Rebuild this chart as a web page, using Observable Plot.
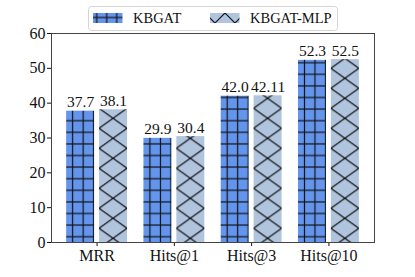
<!DOCTYPE html>
<html><head><meta charset="utf-8">
<script src="https://cdn.jsdelivr.net/npm/d3@7"></script>
<script src="https://cdn.jsdelivr.net/npm/@observablehq/plot@0.6"></script>
<style>
html,body{margin:0;padding:0;background:#fff;}
#wrap{position:relative;width:415px;height:277px;overflow:hidden;}
#wrap > svg{display:block;}
#legend{position:absolute;left:0;top:0;}
</style></head><body><div id="wrap"></div>
<script>
const categories = ["MRR", "Hits@1", "Hits@3", "Hits@10"];
const series = ["KBGAT", "KBGAT-MLP"];
const kbgat = [37.7, 29.9, 42.0, 52.3];
const kbgatMlp = [38.1, 30.4, 42.11, 52.5];
const kbgatLabels = ["37.7", "29.9", "42.0", "52.3"];
const kbgatMlpLabels = ["38.1", "30.4", "42.11", "52.5"];
const yTicks = [0, 10, 20, 30, 40, 50, 60];

const rows = categories.flatMap((c, i) => [
  {cat: c, i, s: 0, value: kbgat[i], label: kbgatLabels[i]},
  {cat: c, i, s: 1, value: kbgatMlp[i], label: kbgatMlpLabels[i]}
]);

const FONT = "Liberation Serif";
const OFF = 0.213, HALF = 0.181;
const pos = d => d.i + (d.s ? OFF : -OFF);
const fills = ["#6495ED", "#B0C4DE"];

const plot = Plot.plot({
  width: 415, height: 277,
  marginLeft: 51, marginRight: 41, marginTop: 33, marginBottom: 35,
  style: {fontFamily: FONT, fontSize: "16px", color: "#111", background: "#fff"},
  x: {domain: [-0.59, 3.59], ticks: [0, 1, 2, 3], tickFormat: i => categories[i], tickSize: 4, tickPadding: 3, label: null},
  y: {domain: [0, 60], ticks: yTicks, tickSize: 4, tickPadding: 2, label: null},
  color: {type: "identity"},
  marks: [
    Plot.rect(rows, {x1: d => pos(d) - HALF, x2: d => pos(d) + HALF, y1: 0, y2: "value",
      fill: d => `url(#hatch-${d.s}-${d.i})`}),
    Plot.text(rows, {x: pos, y: "value", text: "label", dy: -9, fontSize: 15.5}),
    Plot.frame({stroke: "#444"})
  ]
});

const xs = plot.scale("x");
const svg = d3.select(plot);
const defs = svg.insert("defs", ":first-child");
categories.forEach((c, i) => {
  // KBGAT: "+" grid hatch
  const left0 = xs.apply(i - OFF - HALF);
  const PW = 10.5, PH = 11.6;
  const p0 = defs.append("pattern").attr("id", `hatch-0-${i}`).attr("patternUnits", "userSpaceOnUse")
    .attr("x", left0 + 6.5 - PW / 2).attr("y", 120.7 - PH / 2).attr("width", PW).attr("height", PH);
  p0.append("rect").attr("width", PW).attr("height", PH).attr("fill", fills[0]);
  p0.append("line").attr("x1", PW / 2).attr("x2", PW / 2).attr("y1", 0).attr("y2", PH).attr("stroke", "#111").attr("stroke-width", 1.2);
  p0.append("line").attr("x1", 0).attr("x2", PW).attr("y1", PH / 2).attr("y2", PH / 2).attr("stroke", "#111").attr("stroke-width", 1.2);
  // KBGAT-MLP: "x" hatch
  const left1 = xs.apply(i + OFF - HALF), right1 = xs.apply(i + OFF + HALF);
  const W = right1 - left1, H = 20;
  const p1 = defs.append("pattern").attr("id", `hatch-1-${i}`).attr("patternUnits", "userSpaceOnUse")
    .attr("x", left1).attr("y", 108.3).attr("width", W).attr("height", H);
  p1.append("rect").attr("width", W).attr("height", H).attr("fill", fills[1]);
  p1.append("line").attr("x1", 0).attr("y1", 0).attr("x2", W).attr("y2", H).attr("stroke", "#111").attr("stroke-width", 1.2);
  p1.append("line").attr("x1", W).attr("y1", 0).attr("x2", 0).attr("y2", H).attr("stroke", "#111").attr("stroke-width", 1.2);
});

const wrap = document.getElementById("wrap");
wrap.appendChild(plot);

// Legend (above the plot area)
const leg = d3.select(wrap).append("svg").attr("id", "legend").attr("width", 415).attr("height", 34)
  .style("font-family", FONT);
const ldefs = leg.append("defs");
const lp0 = ldefs.append("pattern").attr("id", "leg-0").attr("patternUnits", "userSpaceOnUse")
  .attr("x", 96.7 - 5).attr("y", 17.5 - 5.8).attr("width", 10).attr("height", 11.6);
lp0.append("rect").attr("width", 10).attr("height", 11.6).attr("fill", fills[0]);
lp0.append("line").attr("x1", 5).attr("x2", 5).attr("y1", 0).attr("y2", 11.6).attr("stroke", "#111").attr("stroke-width", 1.2);
lp0.append("line").attr("x1", 0).attr("x2", 10).attr("y1", 5.8).attr("y2", 5.8).attr("stroke", "#111").attr("stroke-width", 1.2);
const lp1 = ldefs.append("pattern").attr("id", "leg-1").attr("patternUnits", "userSpaceOnUse")
  .attr("x", 215).attr("y", 3).attr("width", 20).attr("height", 20);
lp1.append("rect").attr("width", 20).attr("height", 20).attr("fill", fills[1]);
lp1.append("line").attr("x1", 0).attr("y1", 0).attr("x2", 20).attr("y2", 20).attr("stroke", "#111").attr("stroke-width", 1.2);
lp1.append("line").attr("x1", 20).attr("y1", 0).attr("x2", 0).attr("y2", 20).attr("stroke", "#111").attr("stroke-width", 1.2);

leg.append("rect").attr("x", 88.5).attr("y", 6.5).attr("width", 249).attr("height", 24).attr("rx", 3)
  .attr("fill", "#fff").attr("stroke", "#d4d4d4");
const items = [{sx: 93, tx: 133}, {sx: 210, tx: 250}];
series.forEach((name, k) => {
  leg.append("rect").attr("x", items[k].sx).attr("y", 13).attr("width", 29.5).attr("height", 10)
    .attr("fill", `url(#leg-${k})`);
  leg.append("text").attr("x", items[k].tx).attr("y", 23).text(name)
    .attr("font-size", 14.5).attr("fill", "#111");
});
</script></body></html>
